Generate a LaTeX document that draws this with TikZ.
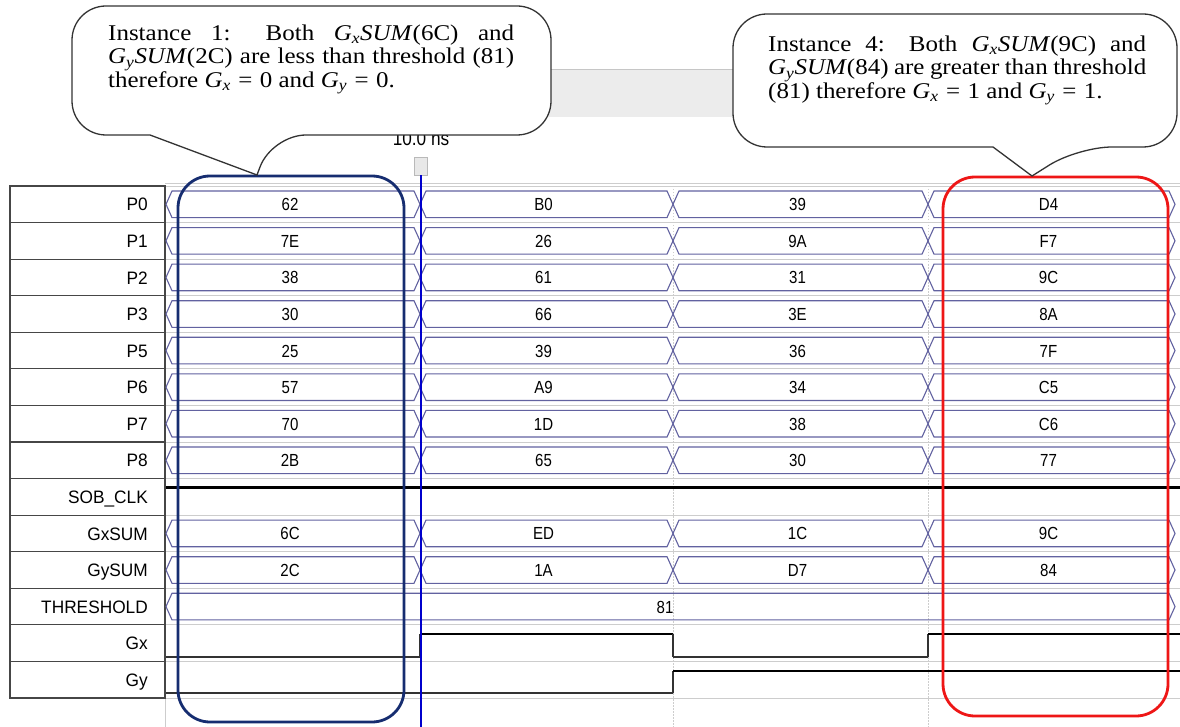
\documentclass[tikz,border=0pt]{standalone}
\usepackage{fontspec}
\setmainfont{Liberation Serif}
\newfontfamily\cf[FakeStretch=1.11]{Liberation Serif}
\newfontfamily\wf[FakeStretch=0.86]{Liberation Sans}
\newfontfamily\lf[FakeStretch=0.96]{Liberation Sans}
\newcommand\gv[1]{\textit{G}\textsubscript{\textit{#1}}}
\newcommand\gsum[1]{\gv{#1}\textit{SUM}}
\newcommand\eqs{\hspace{0.33em}=\hspace{0.33em}}
\definecolor{busc}{RGB}{98,98,160}
\definecolor{navyc}{RGB}{22,45,112}
\definecolor{redc}{RGB}{238,22,22}
\definecolor{gridc}{RGB}{205,205,205}
\definecolor{boxc}{RGB}{70,70,70}
\begin{document}
\begin{tikzpicture}[x=1pt,y=-1pt,
  bus/.style={draw=busc, line width=1.1pt},
  val/.style={font=\wf\fontsize{17.5}{19}\selectfont, inner sep=0pt, anchor=base},
  lab/.style={font=\lf\fontsize{18}{20}\selectfont, inner sep=0pt, anchor=base east},
  labbox/.style={draw=boxc, line width=1.2pt},
  gridv/.style={draw=gridc, line width=0.6pt, dash pattern=on 1.5pt off 1.5pt},
  gridh/.style={draw=gridc, line width=0.8pt},
  hi/.style={draw=black, line width=2.6pt},
  lo/.style={draw=black!80, line width=1.2pt},
  edge/.style={draw=black!80, line width=1.2pt},
  callout/.style={draw=black!80, line width=1.3pt, fill=white},
  ctext/.style={font=\cf\fontsize{22.5}{23}\selectfont, inner sep=0pt, anchor=base west},
]
\useasboundingbox (0,0) rectangle (1180,727);
\fill[white] (0,0) rectangle (1180,727);

% top grey band behind callouts
\fill[gray!15] (540,69) rectangle (745,117);
\draw[gray!45, line width=0.8pt] (540,69) -- (745,69);

% grid
\draw[gridh] (165,183) -- (1180,183);
\foreach \i in {0,...,14} {
  \pgfmathsetmacro\yy{186+36.57*\i}
  \draw[gridh] (165,\yy) -- (1180,\yy);
}
\foreach \xx in {420,673,928} {
  \draw[gridv] (\xx,183) -- (\xx,727);
}
\draw[gridc, line width=0.8pt] (165,186) -- (165,727);

% label column
\foreach \lab [count=\i from 0] in {P0,P1,P2,P3,P5,P6,P7,P8,SOB\_CLK,GxSUM,GySUM,THRESHOLD,Gx,Gy} {
  \pgfmathsetmacro\yt{186+36.57*\i}
  \draw[labbox] (10,\yt) rectangle (165,\yt+36.57);
  \node[lab] (L\i) at (148,\yt+25) {\lab};
}

% bus rows
\foreach \r/\a/\b/\c/\d in {0/62/B0/39/D4, 1/7E/26/9A/F7, 2/38/61/31/9C, 3/30/66/3E/8A,
    4/25/39/36/7F, 5/57/A9/34/C5, 6/70/1D/38/C6, 7/2B/65/30/77, 9/6C/ED/1C/9C, 10/2C/1A/D7/84} {
  \pgfmathsetmacro\yt{186+36.57*\r}
  \foreach \xa/\xb/\v [count=\s] in {166/420/\a, 420/673/\b, 673/928/\c, 928/1175/\d} {
    \draw[bus] (\xa,\yt+18.3) -- (\xa+6,\yt+5) -- (\xb-6,\yt+5) -- (\xb,\yt+18.3)
       -- (\xb-6,\yt+31.6) -- (\xa+6,\yt+31.6) -- cycle;
    \node[val] (V\r-\s) at ({(\xa+\xb)/2-3},\yt+24.8) {\v};
  }
}
% threshold
\pgfmathsetmacro\yth{186+36.57*11}
\draw[bus] (166,\yth+18.3) -- (172,\yth+5) -- (1169,\yth+5) -- (1175,\yth+18.3)
   -- (1169,\yth+31.6) -- (172,\yth+31.6) -- cycle;
\node[val] (V11) at (665,\yth+24.8) {81};

% SOB_CLK
\draw[hi] (166,487.2) -- (1180,487.2);

% Gx
\draw[lo] (166,657) -- (420,657);
\draw[edge] (420,657) -- (420,634);
\draw[hi] (420,634) -- (673,634);
\draw[edge] (673,634) -- (673,657);
\draw[lo] (673,657) -- (928,657);
\draw[edge] (928,657) -- (928,634);
\draw[hi] (928,634) -- (1180,634);
% Gy
\draw[lo] (166,693) -- (673,693);
\draw[edge] (673,693) -- (673,671);
\draw[hi] (673,671) -- (1180,671);

% marker
\node[draw=gray!55, fill=gray!18, minimum width=13pt, minimum height=18pt, inner sep=0pt] (mk) at (421,166) {};
\coordinate (mkend) at (421,727);
\draw[blue!80!black, line width=1.2pt] (mk.south) -- (mkend);
\node[font=\wf\fontsize{20}{21}\selectfont, inner sep=0pt, anchor=base] (mktxt) at (421,145.5) {10.0 ns};

% highlight boxes
\draw[navyc, line width=2.8pt, rounded corners=32pt] (178,176) rectangle (404,722);
\draw[redc, line width=2.8pt, rounded corners=32pt] (943,177) rectangle (1168,716);

% callouts
\draw[callout] (150,135) [rounded corners=34pt] -- (72,135) -- (72,6) -- (551,6) -- (551,135) -- (272,135) [sharp corners] -- (257,175) -- cycle;
\draw[callout] (993,147) [rounded corners=34pt] -- (733,147) -- (733,14) -- (1177,14) -- (1177,147) -- (1078,147) [sharp corners] -- (1032,176) -- cycle;

\node[ctext] (t1a) at (108,40.5) {\makebox[406pt][s]{Instance 1: Both \gsum{x}(6C) and}};
\node[ctext] (t1b) at (108,64) {\makebox[406pt][s]{\gsum{y}(2C) are less than threshold (81)}};
\node[ctext] (t1c) at (108,87.5) {therefore \gv{x}\eqs0 and \gv{y}\eqs0.};

\node[ctext] (t2a) at (768,51.5) {\makebox[378pt][s]{Instance 4: Both \gsum{x}(9C) and}};
\node[ctext] (t2b) at (768,75) {\makebox[378pt][s]{\gsum{y}(84) are greater than threshold}};
\node[ctext] (t2c) at (768,98.5) {(81) therefore \gv{x}\eqs1 and \gv{y}\eqs1.};
\end{tikzpicture}
\end{document}
